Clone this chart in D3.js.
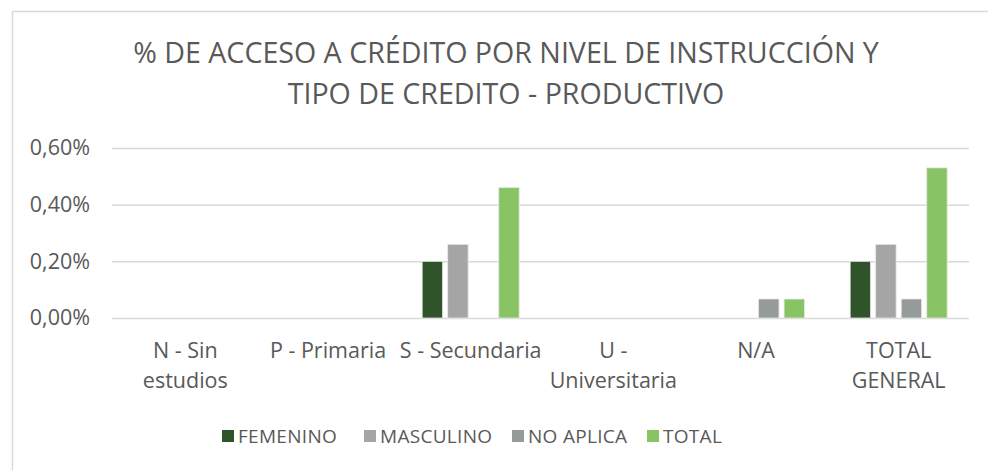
<!DOCTYPE html>
<html>
<head>
<meta charset="utf-8">
<script src="https://cdn.jsdelivr.net/npm/d3@7"></script>
<style>
  body { margin: 0; background: #fff; }
  text { font-family: "Open Sans", "Liberation Sans", sans-serif; fill: #595959; }
</style>
</head>
<body>
<div id="chart"></div>
<script>
let categories = [['N - Sin', 'estudios'], ['P - Primaria'], ['S - Secundaria'], ['U -', 'Universitaria'], ['N/A'], ['TOTAL', 'GENERAL']]
let seriesNames = ['FEMENINO', 'MASCULINO', 'NO APLICA', 'TOTAL']
let femenino = [0, 0, 0.0020, 0, 0, 0.0020]
let masculino = [0, 0, 0.0026, 0, 0, 0.0026]
let noAplica = [0, 0, 0, 0, 0.00067, 0.00067]
let total = [0, 0, 0.0046, 0, 0.00067, 0.0053]
let yTicks = [0, 0.002, 0.004, 0.006]
let titleLines = ['% DE ACCESO A CRÉDITO POR NIVEL DE INSTRUCCIÓN Y', 'TIPO DE CREDITO - PRODUCTIVO']

let colors = ['#2f5429', '#a5a5a5', '#959a9a', '#88c464']
let seriesValues = [femenino, masculino, noAplica, total]

let width = 988
let height = 470

let svg = d3.select('#chart')
  .append('svg')
    .attr('width', width)
    .attr('height', height)

// chart frame
svg.append('rect')
  .attr('x', 12.5).attr('y', 11.5)
  .attr('width', 990).attr('height', 470)
  .attr('fill', 'none')
  .attr('stroke', '#d9d9d9')
  .attr('stroke-width', 1.5)

svg.selectAll('.title')
  .data(titleLines)
  .enter()
  .append('text')
    .attr('class', 'title')
    .attr('x', 506)
    .attr('y', (d, i) => 63 + i * 41)
    .attr('text-anchor', 'middle')
    .style('font-size', '28.6px')
    .text(d => d)

let x = d3.scaleBand()
  .domain(d3.range(categories.length))
  .range([114, 970])
  .paddingInner(0.32)
  .paddingOuter(0.16)

let xInner = d3.scaleBand()
  .domain(d3.range(seriesNames.length))
  .range([0, x.bandwidth()])
  .paddingInner(0.2)

let y = d3.scaleLinear()
  .domain([0, 0.006])
  .range([318, 148])

let fmt = v => d3.format('.2f')(v * 100).replace('.', ',') + '%'

// gridlines
svg.append('g')
  .attr('transform', 'translate(112,0)')
  .call(d3.axisLeft(y).tickValues(yTicks).tickSize(-857).tickFormat(fmt).tickPadding(22))
  .call(g => g.select('.domain').remove())
  .call(g => g.selectAll('line').attr('stroke', '#d9d9d9').attr('stroke-width', 1.5))
  .call(g => g.selectAll('text').style('font-size', '21.5px').attr('fill', '#595959').attr('font-family', null))

let groups = svg.selectAll('.grp')
  .data(categories)
  .enter()
  .append('g')
    .attr('class', 'grp')
    .attr('transform', (d, i) => 'translate(' + x(i) + ',0)')

groups.selectAll('rect')
  .data((d, i) => seriesValues.map((s, k) => ({ k: k, v: s[i] })).filter(o => o.v > 0))
  .enter()
  .append('rect')
    .attr('x', d => xInner(d.k))
    .attr('width', xInner.bandwidth())
    .attr('y', d => y(d.v))
    .attr('height', d => y(0) - y(d.v))
    .attr('fill', d => colors[d.k])
    .attr('stroke', '#e8e8e8')
    .attr('stroke-width', 0.8)

// category labels
let catLabels = svg.selectAll('.cat')
  .data(categories)
  .enter()
  .append('text')
    .attr('class', 'cat')
    .attr('text-anchor', 'middle')
    .style('font-size', '21.5px')

catLabels.selectAll('tspan')
  .data((d, i) => d.map(line => ({ line: line, i: i })))
  .enter()
  .append('tspan')
    .attr('x', d => x(d.i) + x.bandwidth() / 2)
    .attr('y', (d, j) => 358 + j * 30)
    .text(d => d.line)

// legend
let legendX = [222, 364, 512, 647]
let legend = svg.selectAll('.leg')
  .data(seriesNames)
  .enter()
  .append('g')
    .attr('class', 'leg')
    .attr('transform', (d, i) => 'translate(' + legendX[i] + ',430)')

legend.append('rect')
  .attr('width', 12).attr('height', 12)
  .attr('fill', (d, i) => colors[i])

legend.append('text')
  .attr('x', 16)
  .attr('y', 13)
  .style('font-size', '19px')
  .style('letter-spacing', '0.3px')
  .text(d => d)
</script>
</body>
</html>
